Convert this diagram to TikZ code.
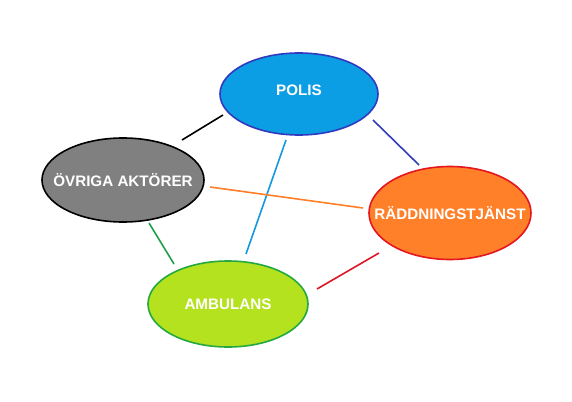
\documentclass[tikz,border=0pt]{standalone}
\usepackage{fontspec}
\setmainfont{Liberation Sans}
\usetikzlibrary{shapes.geometric}
\definecolor{polisfill}{RGB}{12,158,228}
\definecolor{polisdraw}{RGB}{48,58,190}
\definecolor{ovrfill}{RGB}{128,128,128}
\definecolor{raddfill}{RGB}{255,128,40}
\definecolor{radddraw}{RGB}{228,22,32}
\definecolor{ambfill}{RGB}{180,226,30}
\definecolor{ambdraw}{RGB}{36,168,64}
\definecolor{linkblue}{RGB}{50,60,185}
\definecolor{linklight}{RGB}{20,152,222}
\definecolor{linkorange}{RGB}{255,128,40}
\definecolor{linkgreen}{RGB}{30,160,75}
\definecolor{linkred}{RGB}{222,22,40}
\tikzset{
  actor/.style={ellipse, line width=1.6pt, inner sep=0pt},
  actortext/.style={font=\fontsize{15.2}{15}\selectfont\bfseries, text=white, inner sep=0pt},
  link/.style={line width=1.6pt}
}
\begin{document}
\begin{tikzpicture}[x=1pt,y=-1pt]
\useasboundingbox (0,0) rectangle (572,401);
\fill[white] (0,0) rectangle (572,401);
\node[actor, draw=polisdraw, fill=polisfill, minimum width=158pt, minimum height=82pt,
  label={[actortext, yshift=4pt]center:POLIS}] (polis) at (299,94) {};
\node[actor, draw=black, fill=ovrfill, minimum width=162pt, minimum height=84pt,
  label={[actortext]center:ÖVRIGA AKTÖRER}] (ovr) at (123,180) {};
\node[actor, draw=radddraw, fill=raddfill, minimum width=162pt, minimum height=93pt,
  label={[actortext]center:RÄDDNINGSTJÄNST}] (radd) at (450,213) {};
\node[actor, draw=ambdraw, fill=ambfill, minimum width=160pt, minimum height=86pt,
  label={[actortext]center:AMBULANS}] (amb) at (228,304) {};
% connector ends
\coordinate (k1) at (182,140); \coordinate (k2) at (223,115);
\coordinate (b1) at (373,120); \coordinate (b2) at (419,165);
\coordinate (l1) at (286,140); \coordinate (l2) at (246,254);
\coordinate (o1) at (210,187); \coordinate (o2) at (363,208);
\coordinate (g1) at (149,223); \coordinate (g2) at (174,264);
\coordinate (r1) at (379,253); \coordinate (r2) at (317,289);
\draw[link, black] (k1) -- (k2);
\draw[link, linkblue] (b1) -- (b2);
\draw[link, linklight] (l1) -- (l2);
\draw[link, linkorange] (o1) -- (o2);
\draw[link, linkgreen] (g1) -- (g2);
\draw[link, linkred] (r1) -- (r2);
\end{tikzpicture}
\end{document}
